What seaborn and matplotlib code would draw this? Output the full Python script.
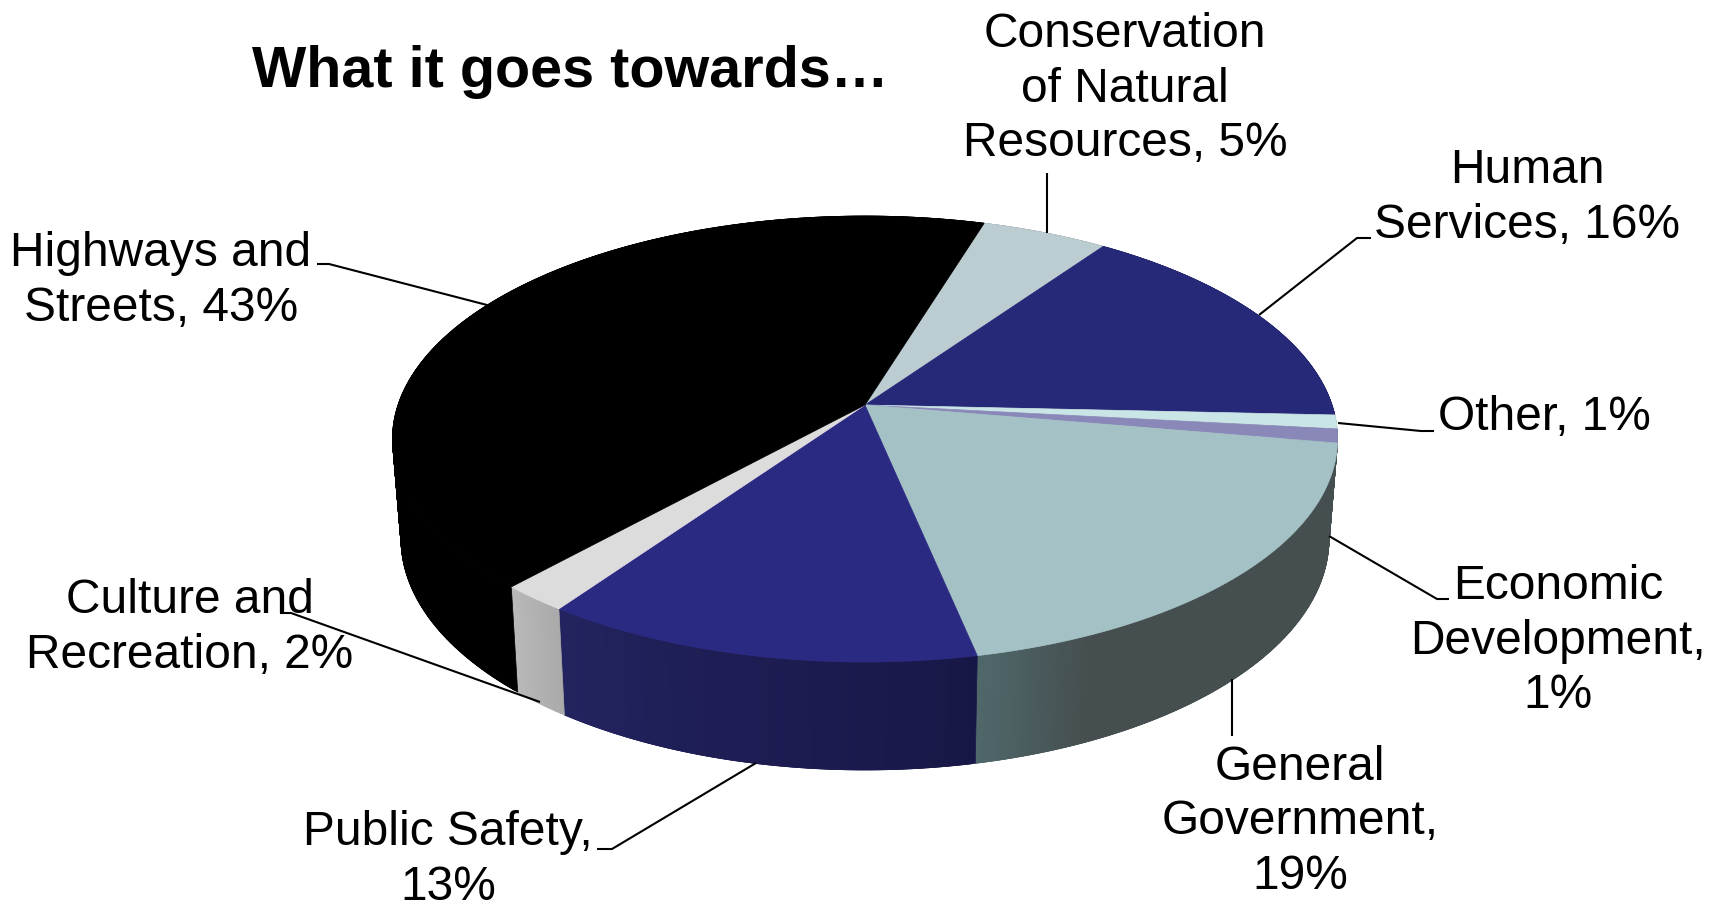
import numpy as np
import matplotlib
matplotlib.use("Agg")
import matplotlib.pyplot as plt
import seaborn as sns
from matplotlib.colors import to_rgb

# ---- data (clockwise from the top-left boundary of the pie) ----
categories = ["Conservation of Natural Resources", "Human Services", "Other",
              "Economic Development", "General Government", "Public Safety",
              "Culture and Recreation", "Highways and Streets"]
values = [5, 16, 1, 1, 19, 13, 2, 43]
label_texts = ["Conservation\nof Natural\nResources, 5%", "Human\nServices, 16%", "Other, 1%",
               "Economic\nDevelopment,\n1%", "General\nGovernment,\n19%", "Public Safety,\n13%",
               "Culture and\nRecreation, 2%", "Highways and\nStreets, 43%"]
top_colors = ["#bccdd1", "#262878", "#c9e5e5", "#8a88b8", "#a4c2c6", "#2b2a82", "#dcdcdc", "#000000"]
side_left = ["#8c999c", "#1c1d5a", "#97acac", "#67668a", "#50686b", "#23235f", "#b9b9b9", "#000000"]
side_right = ["#8c999c", "#1c1d5a", "#97acac", "#67668a", "#454f50", "#171747", "#aaaaaa", "#000000"]
title_text = "What it goes towards…"

# ---- label placement (reference pixels) ----
label_xy = [(1125, 89), (1527, 198), (1544, 418), (1558, 641),
            (1300, 822), (448, 860), (190, 628), (161, 281)]
leaders = [
    [(1046.6, 173), (1046.6, 233)],
    [(1371, 238), (1357, 238), (1259, 315)],
    [(1434, 431), (1421, 431), (1338, 423)],
    [(1449, 599), (1437, 599), (1329, 536)],
    [(1232, 736), (1232, 679)],
    [(597, 849), (612, 849), (756, 763)],
    [(280, 613), (291, 613), (540, 702)],
    [(317, 264), (329, 264), (487, 305)],
]

# ---- perspective view of the disc ----
START_DEG = 17.0
CX, K, PERSP = 865.0, 467.0, 0.1526
TOP_Y0, TOP_A = 405.0, 217.8
BOT_Y0, BOT_A, BOT_XS = 503.5, 225.8, 0.982


def top_xy(theta):
    u, v = np.sin(theta), np.cos(theta)
    w = 1 + PERSP * v
    return CX + K * u / w, TOP_Y0 - TOP_A * v / w


def bottom_xy(theta):
    u, v = np.sin(theta), np.cos(theta)
    w = 1 + PERSP * v
    return CX + BOT_XS * K * u / w, BOT_Y0 - BOT_A * v / w


sns.set_theme(style="white")
plt.rcParams["font.family"] = ["Liberation Sans", "DejaVu Sans"]

fig, ax = plt.subplots(figsize=(17.23, 9.08), dpi=100)
fig.subplots_adjust(0, 0, 1, 1)
ax.set_xlim(0, 1723)
ax.set_ylim(908, 0)
ax.set_axis_off()

edges = START_DEG + np.concatenate([[0], np.cumsum(values)]) / np.sum(values) * 360.0
top_pal = sns.color_palette(top_colors)

# outer wall: each strip overlaps the next one, so no seams show between them
for i in range(len(values)):
    a, b = np.radians(edges[i]), np.radians(edges[i + 1])
    left_c, right_c = np.array(to_rgb(side_left[i])), np.array(to_rgb(side_right[i]))
    n = max(4, int((edges[i + 1] - edges[i]) * 3))
    steps = np.linspace(a, b, n + 1)
    for j in range(n):
        t = np.linspace(steps[j], steps[min(j + 2, n)], 6)
        xt, yt = top_xy(t)
        xb, yb = bottom_xy(t)
        f = (j + 0.5) / n
        if categories[i] == "General Government":
            f = max(0.0, (f - 0.82) / 0.18)
        col = right_c + (left_c - right_c) * f
        ax.fill(np.r_[xt, xb[::-1]], np.r_[yt, yb[::-1]], color=col, lw=0.5, zorder=2)

# top face
for i in range(len(values)):
    t = np.radians(np.linspace(edges[i], edges[i + 1], 120))
    x, y = top_xy(t)
    ax.fill(np.r_[CX, x], np.r_[TOP_Y0, y], color=top_pal[i], lw=0.5, zorder=3)

# leader lines
for pts in leaders:
    xs, ys = zip(*pts)
    ax.plot(xs, ys, color="black", lw=1.5, zorder=5, solid_capstyle="butt")

# text
for txt, (x, y) in zip(label_texts, label_xy):
    ax.text(x, y, txt, ha="center", va="center", fontsize=34.5, color="black",
            linespacing=1.28, zorder=6)
ax.text(252, 87, title_text, ha="left", va="baseline", fontsize=41.4, fontweight="bold",
        color="black", zorder=6)

fig.savefig("out.png", dpi=100, facecolor="white")
